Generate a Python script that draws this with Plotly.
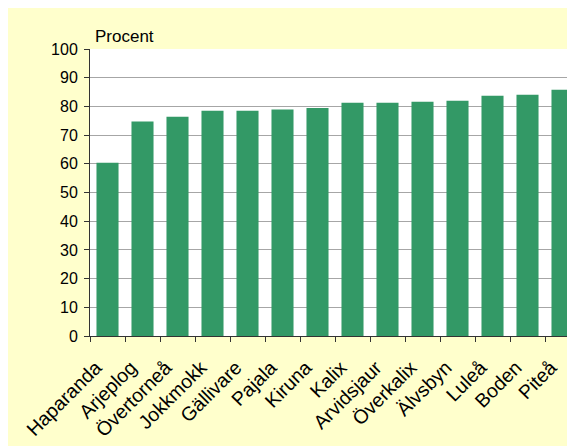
import plotly.graph_objects as go

kommuner = ["Haparanda", "Arjeplog", "Övertorneå", "Jokkmokk", "Gällivare", "Pajala", "Kiruna",
            "Kalix", "Arvidsjaur", "Överkalix", "Älvsbyn", "Luleå", "Boden", "Piteå"]
procent = [60.4, 74.7, 76.4, 78.5, 78.5, 78.9, 79.4, 81.3, 81.3, 81.6, 82.0, 83.7, 84.1, 85.8]
y_ticks = list(range(0, 101, 10))

fig = go.Figure()
fig.add_trace(go.Bar(x=kommuner, y=procent, marker_color="#339966", width=0.63,
                     marker_line_width=0))

# figure sits 8px in (body margin); chart runs off the right edge, so clip the x range
fig.update_layout(
    width=567, height=438,
    margin={"l": 82, "r": 0, "t": 41, "b": 110},
    paper_bgcolor="#FFFFCC", plot_bgcolor="white",
    font=dict(family="Liberation Sans, Arial, sans-serif", size=15, color="black"),
    showlegend=False,
)
fig.update_xaxes(range=[-0.5, -0.5 + 485 / 35], tickangle=-45, showline=True, linecolor="#333333",
                 ticks="outside", ticklen=5, tickcolor="#333333", tickson="boundaries",
                 showgrid=False, fixedrange=True, tickfont=dict(size=19.5), automargin=False,
                 ticksuffix="\u00a0" * 3, ticklabelstandoff=0)
fig.update_yaxes(range=[0, 100], tickvals=y_ticks, showline=True, linecolor="#333333",
                 ticks="outside", ticklen=5, tickcolor="#333333", automargin=False,
                 showgrid=True, gridcolor="#A6A6A6", gridwidth=1, zeroline=False,
                 tickfont=dict(size=16), ticklabelstandoff=3)

fig.add_annotation(text="Procent", xref="paper", yref="paper", x=3 / 485, y=1.045,
                   xanchor="left", yanchor="middle", showarrow=False, font=dict(size=17))

fig.write_html("out.html")
